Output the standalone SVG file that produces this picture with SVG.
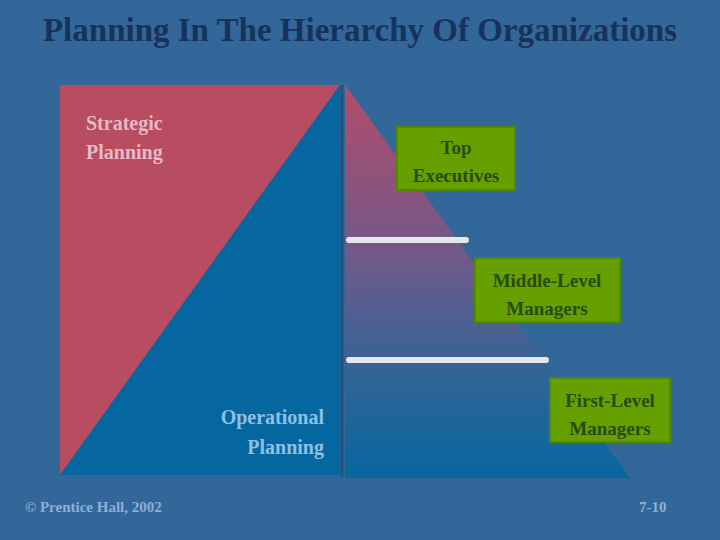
<svg xmlns="http://www.w3.org/2000/svg" width="720" height="540" viewBox="0 0 720 540">
<defs>
<linearGradient id="pyr" x1="0" y1="0" x2="0" y2="1">
<stop offset="0" stop-color="#b24c6a"/>
<stop offset="0.45" stop-color="#6e5a8a"/>
<stop offset="0.75" stop-color="#2f6496"/>
<stop offset="1" stop-color="#06679f"/>
</linearGradient>
<style>
.title{font-family:"Liberation Serif",serif;font-weight:bold;font-size:33px;fill:#17335c}
.lbl{font-family:"Liberation Serif",serif;font-weight:bold;font-size:19px;fill:#2a4a10;text-anchor:middle}
.box{fill:#66a000;stroke:#4f8a00;stroke-width:2}
.bar{stroke:#e4e6f0;stroke-width:6;stroke-linecap:round}
.foot{font-family:"Liberation Serif",serif;font-weight:bold;font-size:15px;fill:#8cb0d6}
.side{font-family:"Liberation Serif",serif;font-weight:bold;font-size:20px}
</style>
</defs>
<rect width="720" height="540" fill="#336699"/>
<text class="title" x="360" y="41" text-anchor="middle">Planning In The Hierarchy Of Organizations</text>
<g id="planning">
<polygon points="60,85 340,85 60,475" fill="#b84c60"/>
<polygon points="340,85 340,475 60,475" fill="#0566a0"/>
<text class="side" x="86" y="130" fill="#e8b8c4">Strategic</text>
<text class="side" x="86" y="159" fill="#e8b8c4">Planning</text>
<text class="side" x="324" y="424" text-anchor="end" fill="#8cc0e4">Operational</text>
<text class="side" x="324" y="454" text-anchor="end" fill="#8cc0e4">Planning</text>
</g>
<g id="hierarchy">
<line x1="342" y1="85" x2="342" y2="477" stroke="#1f5480" stroke-width="3"/>
<polygon points="345,85 630,478 345,478" fill="url(#pyr)"/>
<line class="bar" x1="349" y1="240" x2="466" y2="240"/>
<line class="bar" x1="349" y1="360" x2="546" y2="360"/>
</g>
<g id="top">
<rect class="box" x="397" y="127" width="118" height="63"/>
<text class="lbl" x="456" y="154">Top</text>
<text class="lbl" x="456" y="182">Executives</text>
</g>
<g id="middle">
<rect class="box" x="475" y="258" width="145" height="64"/>
<text class="lbl" x="547" y="287">Middle-Level</text>
<text class="lbl" x="547" y="315">Managers</text>
</g>
<g id="first">
<rect class="box" x="550" y="378" width="120" height="64"/>
<text class="lbl" x="610" y="407">First-Level</text>
<text class="lbl" x="610" y="435">Managers</text>
</g>
<text class="foot" x="25" y="512">© Prentice Hall, 2002</text>
<text class="foot" x="639" y="512">7-10</text>
</svg>
